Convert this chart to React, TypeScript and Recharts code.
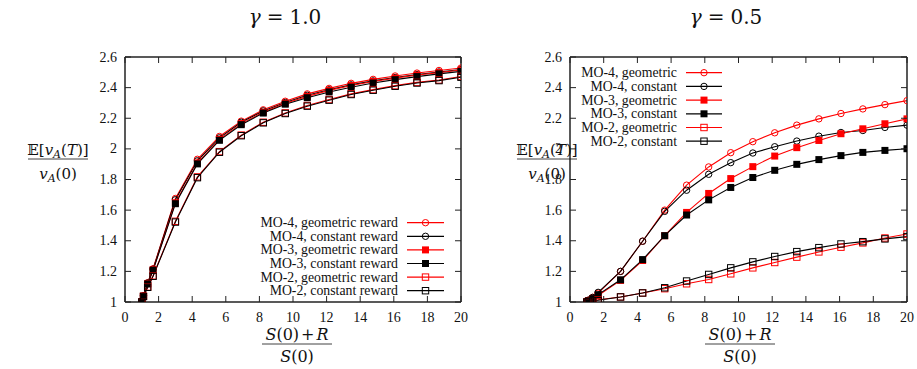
import React from 'react';
import { LineChart, Line, XAxis, YAxis } from 'recharts';

// ---------- data ----------
const xValues = [1.0, 1.1, 1.35, 1.67, 3.0, 4.31, 5.62, 6.92, 8.23, 9.54, 10.85, 12.15, 13.46, 14.77, 16.08, 17.38, 18.69, 20.0];
const xTicks = [0, 2, 4, 6, 8, 10, 12, 14, 16, 18, 20];
const yTicks = [1, 1.2, 1.4, 1.6, 1.8, 2, 2.2, 2.4, 2.6];

// gamma = 1.0
const g10_mo4Geometric = [1.0, 1.04, 1.126, 1.217, 1.676, 1.932, 2.081, 2.181, 2.255, 2.311, 2.359, 2.395, 2.428, 2.454, 2.476, 2.495, 2.512, 2.528];
const g10_mo4Constant = [1.0, 1.04, 1.124, 1.214, 1.668, 1.922, 2.072, 2.174, 2.248, 2.303, 2.35, 2.386, 2.418, 2.444, 2.466, 2.485, 2.502, 2.518];
const g10_mo3Geometric = [1.0, 1.038, 1.12, 1.21, 1.648, 1.908, 2.062, 2.165, 2.24, 2.298, 2.343, 2.382, 2.414, 2.44, 2.462, 2.482, 2.498, 2.515];
const g10_mo3Constant = [1.0, 1.037, 1.118, 1.207, 1.642, 1.902, 2.056, 2.158, 2.234, 2.292, 2.334, 2.372, 2.403, 2.43, 2.452, 2.472, 2.49, 2.506];
const g10_mo2Geometric = [1.0, 1.037, 1.098, 1.171, 1.527, 1.817, 1.982, 2.09, 2.174, 2.235, 2.283, 2.322, 2.359, 2.387, 2.413, 2.434, 2.45, 2.473];
const g10_mo2Constant = [1.0, 1.036, 1.096, 1.168, 1.522, 1.812, 1.978, 2.086, 2.17, 2.231, 2.279, 2.318, 2.355, 2.383, 2.409, 2.43, 2.446, 2.468];

// gamma = 0.5
const g05_mo4Geometric = [1.0, 1.012, 1.03, 1.058, 1.2, 1.397, 1.6, 1.763, 1.882, 1.975, 2.047, 2.105, 2.155, 2.196, 2.231, 2.261, 2.289, 2.315];
const g05_mo4Constant = [1.0, 1.012, 1.03, 1.063, 1.2, 1.397, 1.592, 1.73, 1.834, 1.91, 1.973, 2.014, 2.051, 2.083, 2.107, 2.12, 2.14, 2.155];
const g05_mo3Geometric = [1.0, 1.008, 1.022, 1.043, 1.141, 1.271, 1.433, 1.585, 1.709, 1.806, 1.884, 1.953, 2.008, 2.055, 2.099, 2.131, 2.164, 2.196];
const g05_mo3Constant = [1.0, 1.008, 1.022, 1.048, 1.145, 1.277, 1.433, 1.568, 1.667, 1.748, 1.813, 1.86, 1.899, 1.93, 1.956, 1.977, 1.99, 2.001];
const g05_mo2Geometric = [1.0, 1.004, 1.008, 1.015, 1.033, 1.059, 1.087, 1.119, 1.147, 1.184, 1.223, 1.258, 1.293, 1.327, 1.358, 1.386, 1.418, 1.444];
const g05_mo2Constant = [1.0, 1.004, 1.008, 1.011, 1.033, 1.059, 1.093, 1.137, 1.18, 1.223, 1.262, 1.297, 1.329, 1.355, 1.379, 1.394, 1.412, 1.427];

const seriesKeys = ['mo4g', 'mo4c', 'mo3g', 'mo3c', 'mo2g', 'mo2c'];
const seriesNames = ['MO-4', 'MO-4', 'MO-3', 'MO-3', 'MO-2', 'MO-2'];
const seriesKinds = ['geometric', 'constant', 'geometric', 'constant', 'geometric', 'constant'];
const seriesColors = ['#ff0000', '#000000', '#ff0000', '#000000', '#ff0000', '#000000'];
const seriesShapes = ['circle', 'circle', 'filled', 'filled', 'square', 'square'];

const buildData = (cols: number[][]) =>
  xValues.map((x, i) => {
    const row: any = { x };
    seriesKeys.forEach((k, j) => (row[k] = cols[j][i]));
    return row;
  });

const dataG10 = buildData([g10_mo4Geometric, g10_mo4Constant, g10_mo3Geometric, g10_mo3Constant, g10_mo2Geometric, g10_mo2Constant]);
const dataG05 = buildData([g05_mo4Geometric, g05_mo4Constant, g05_mo3Geometric, g05_mo3Constant, g05_mo2Geometric, g05_mo2Constant]);

// ---------- styling helpers ----------
const TICK_FONT = 'Liberation Serif, serif';
const MATH_FONT = 'DejaVu Serif, DejaVu Sans, serif';
const AXIS = '#222';
const TL = 6;

const fmt = (v: number) => String(Math.round(v * 10) / 10);

function marker(shape: string, color: string, size = 1) {
  return (props: any) => {
    const { cx, cy, index } = props;
    const k = `m-${index}`;
    if (cx == null || cy == null) return <g key={k} />;
    if (shape === 'circle')
      return <circle key={k} cx={cx} cy={cy} r={3.2 * size} fill="none" stroke={color} strokeWidth={1} />;
    if (shape === 'filled')
      return <rect key={k} x={cx - 3.5 * size} y={cy - 3.5 * size} width={7 * size} height={7 * size} fill={color} />;
    return (
      <rect key={k} x={cx - 3.2 * size} y={cy - 3.2 * size} width={6.4 * size} height={6.4 * size} fill="none" stroke={color} strokeWidth={1} />
    );
  };
}

const BottomTick = (p: any) => (
  <g>
    <line x1={p.x} y1={p.y} x2={p.x} y2={p.y - TL} stroke={AXIS} strokeWidth={1} />
    <text x={p.x} y={p.y + 19.5} textAnchor="middle" fontSize={14} fontFamily={TICK_FONT} fill="#111">
      {fmt(p.payload.value)}
    </text>
  </g>
);
const TopTick = (p: any) => (
  <line x1={p.x} y1={p.y} x2={p.x} y2={p.y + TL} stroke={AXIS} strokeWidth={1} />
);
const LeftTick = (p: any) => (
  <g>
    <line x1={p.x} y1={p.y} x2={p.x + TL} y2={p.y} stroke={AXIS} strokeWidth={1} />
    <text x={p.x - 8} y={p.y + 4.5} textAnchor="end" fontSize={14} fontFamily={TICK_FONT} fill="#111">
      {fmt(p.payload.value)}
    </text>
  </g>
);
const RightTick = (p: any) => (
  <line x1={p.x} y1={p.y} x2={p.x - TL} y2={p.y} stroke={AXIS} strokeWidth={1} />
);

function Panel({ data, left, width, marginLeft, marginRight }: any) {
  return (
    <div style={{ position: 'absolute', left, top: 0 }}>
      <LineChart width={width} height={369} data={data} margin={{ top: 52, right: marginRight, bottom: 37, left: marginLeft }}>
        <XAxis
          xAxisId="b"
          dataKey="x"
          type="number"
          domain={[0, 20]}
          ticks={xTicks}
          allowDataOverflow
          height={30}
          tickSize={0}
          tickMargin={0}
          tickLine={false}
          axisLine={{ stroke: AXIS, strokeWidth: 1.5 }}
          tick={<BottomTick />}
          interval={0}
        />
        <XAxis
          xAxisId="t"
          orientation="top"
          dataKey="x"
          type="number"
          domain={[0, 20]}
          ticks={xTicks}
          allowDataOverflow
          height={5}
          tickSize={0}
          tickMargin={0}
          tickLine={false}
          axisLine={{ stroke: AXIS, strokeWidth: 1.5 }}
          tick={<TopTick />}
          interval={0}
        />
        <YAxis
          yAxisId="l"
          type="number"
          domain={[1, 2.6]}
          ticks={yTicks}
          allowDataOverflow
          width={40}
          tickSize={0}
          tickMargin={0}
          tickLine={false}
          axisLine={{ stroke: AXIS, strokeWidth: 1.5 }}
          tick={<LeftTick />}
          interval={0}
        />
        <YAxis
          yAxisId="r"
          orientation="right"
          type="number"
          domain={[1, 2.6]}
          ticks={yTicks}
          allowDataOverflow
          width={5}
          tickSize={0}
          tickMargin={0}
          tickLine={false}
          axisLine={{ stroke: AXIS, strokeWidth: 1.5 }}
          tick={<RightTick />}
          interval={0}
        />
        {seriesKeys.map((k, i) => (
          <Line
            key={k}
            xAxisId="b"
            yAxisId="l"
            dataKey={k}
            type="linear"
            stroke={seriesColors[i]}
            strokeWidth={1.1}
            dot={marker(seriesShapes[i], seriesColors[i])}
            activeDot={false}
            isAnimationActive={false}
          />
        ))}
      </LineChart>
    </div>
  );
}

function LegendBlock({ textRight, lineX1, lineX2, y0, step, suffix }: any) {
  return (
    <g>
      {seriesKeys.map((k, i) => {
        const y = y0 + i * step;
        const mx = (lineX1 + lineX2) / 2;
        const M = marker(seriesShapes[i], seriesColors[i]);
        return (
          <g key={k}>
            <text x={textRight} y={y + 4.5} textAnchor="end" fontSize={13.8} fontFamily={TICK_FONT} fill="#111">
              {`${seriesNames[i]}, ${seriesKinds[i]}${suffix}`}
            </text>
            <line x1={lineX1} y1={y} x2={lineX2} y2={y} stroke={seriesColors[i]} strokeWidth={1.2} />
            {M({ cx: mx, cy: y, index: i })}
          </g>
        );
      })}
    </g>
  );
}

function YLabel({ cx }: any) {
  return (
    <g fontFamily={MATH_FONT} fill="#111">
      <text x={cx} y={155} textAnchor="middle" fontSize={15}>
        <tspan>𝔼[</tspan>
        <tspan fontStyle="italic">v</tspan>
        <tspan fontStyle="italic" fontSize={11} dy={3}>A</tspan>
        <tspan dy={-3}>(</tspan>
        <tspan fontStyle="italic">T</tspan>
        <tspan>)]</tspan>
      </text>
      <line x1={cx - 30} x2={cx + 30} y1={159} y2={159} stroke="#111" strokeWidth={0.8} />
      <text x={cx} y={179} textAnchor="middle" fontSize={15}>
        <tspan fontStyle="italic">v</tspan>
        <tspan fontStyle="italic" fontSize={11} dy={3}>A</tspan>
        <tspan dy={-3}>(0)</tspan>
      </text>
    </g>
  );
}

function XLabel({ cx }: any) {
  return (
    <g fontFamily={MATH_FONT} fill="#111">
      <text x={cx} y={340} textAnchor="middle" fontSize={16}>
        <tspan fontStyle="italic">S</tspan>
        <tspan>(0)</tspan>
        <tspan dx={2}>+</tspan>
        <tspan dx={2} fontStyle="italic">R</tspan>
      </text>
      <line x1={cx - 35} x2={cx + 35} y1={344} y2={344} stroke="#111" strokeWidth={0.8} />
      <text x={cx} y={362} textAnchor="middle" fontSize={16}>
        <tspan fontStyle="italic">S</tspan>
        <tspan>(0)</tspan>
      </text>
    </g>
  );
}

function Title({ cx, value }: any) {
  return (
    <text x={cx} y={24} textAnchor="middle" fontSize={20} fontFamily={MATH_FONT} fill="#111">
      <tspan fontStyle="italic">γ</tspan>
      <tspan dx={6}>=</tspan>
      <tspan dx={6}>{value}</tspan>
    </text>
  );
}

export default function App() {
  return (
    <div style={{ position: 'absolute', left: 0, top: 0, width: 917, height: 369, background: '#fff' }}>
      <Panel data={dataG10} left={0} width={470} marginLeft={85} marginRight={4} />
      <Panel data={dataG05} left={470} width={447} marginLeft={60} marginRight={5} />
      <svg width={917} height={369} style={{ position: 'absolute', left: 0, top: 0, pointerEvents: 'none' }}>
        <Title cx={285} value="1.0" />
        <Title cx={726} value="0.5" />
        <YLabel cx={58} />
        <YLabel cx={547} />
        <XLabel cx={297} />
        <XLabel cx={740} />
        <LegendBlock textRight={398} lineX1={407} lineX2={444} y0={222.7} step={13.6} suffix=" reward" />
        <LegendBlock textRight={677} lineX1={686} lineX2={722} y0={72.7} step={13.7} suffix="" />
      </svg>
    </div>
  );
}
